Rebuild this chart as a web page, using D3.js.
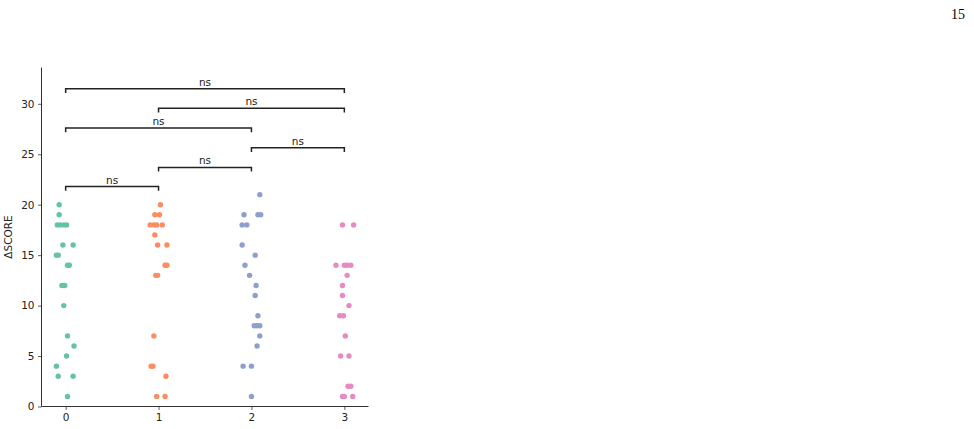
<!DOCTYPE html>
<html>
<head>
<meta charset="utf-8">
<script src="https://cdn.jsdelivr.net/npm/d3@7"></script>
<style>
  body { margin: 0; background: #fff; }
  svg { display: block; }
</style>
</head>
<body>
<svg id="chart"></svg>
<script>
const categories = [0, 1, 2, 3]
const colors = ['#66c2a5', '#fc8d62', '#8da0cb', '#e78ac3']
const yTicks = [0, 5, 10, 15, 20, 25, 30]

// [score, jitter offset in category units]
const group0 = [
  [20, -0.07], [19, -0.07], [18, -0.09], [18, -0.06], [18, -0.02], [18, 0.01],
  [16, -0.03], [16, 0.08], [15, -0.10], [15, -0.08], [14, 0.02], [14, 0.04],
  [12, -0.04], [12, -0.01], [10, -0.02], [7, 0.02], [6, 0.09], [5, 0.01],
  [4, -0.10], [3, -0.08], [3, 0.08], [1, 0.02]
]
const group1 = [
  [20, 0.02], [19, -0.04], [19, 0.01], [18, -0.09], [18, -0.05], [18, -0.02], [18, 0.04],
  [17, -0.04], [16, -0.01], [16, 0.09], [14, 0.07], [14, 0.09], [13, -0.03], [13, -0.01],
  [7, -0.05], [4, -0.08], [4, -0.06], [3, 0.08], [1, -0.02], [1, 0.07]
]
const group2 = [
  [21, 0.09], [19, -0.08], [19, 0.07], [19, 0.10], [18, -0.10], [18, -0.05],
  [16, -0.10], [15, 0.04], [14, -0.07], [13, -0.02], [12, 0.05], [11, 0.04],
  [9, 0.07], [8, 0.03], [8, 0.06], [8, 0.09], [7, 0.09], [6, 0.06],
  [4, -0.09], [4, 0.0], [1, 0.0]
]
const group3 = [
  [18, -0.02], [18, 0.10], [14, -0.09], [14, 0.0], [14, 0.03], [14, 0.07],
  [13, 0.03], [12, -0.02], [11, -0.02], [10, 0.05], [9, -0.05], [9, -0.01],
  [7, 0.01], [5, -0.04], [5, 0.05], [2, 0.04], [2, 0.07],
  [1, -0.02], [1, 0.0], [1, 0.09]
]
const groups = [group0, group1, group2, group3]

// significance brackets: [from, to, height, label]
const pairs = [
  [0, 1, 21.8, 'ns'],
  [1, 2, 23.7, 'ns'],
  [2, 3, 25.65, 'ns'],
  [0, 2, 27.6, 'ns'],
  [1, 3, 29.55, 'ns'],
  [0, 3, 31.5, 'ns']
]

const W = 974, H = 429
const margin = { top: 67.5, left: 41.5, right: 605.5, bottom: 22.5 }
const width = W - margin.left - margin.right
const height = H - margin.top - margin.bottom
const font = 'DejaVu Sans, sans-serif'

const svgEl = d3.select('#chart').attr('width', W).attr('height', H)

// page number in the corner
svgEl.append('text')
  .attr('x', 965).attr('y', 18.5)
  .attr('text-anchor', 'end')
  .attr('font-family', 'Liberation Serif, serif')
  .attr('font-size', 14)
  .text('15')

const svg = svgEl.append('g').attr('transform', `translate(${margin.left}, ${margin.top})`)

const x = d3.scaleLinear().domain([-0.26, 3.26]).range([0, width])
const y = d3.scaleLinear().domain([0, 33.6]).range([height, 0])

groups.forEach((g, i) => {
  svg.append('g')
    .selectAll('circle')
    .data(g)
    .enter()
    .append('circle')
    .attr('cx', (d) => x(categories[i] + d[1]))
    .attr('cy', (d) => y(d[0]))
    .attr('r', 2.7)
    .attr('fill', colors[i])
})

const yAxis = svg.append('g')
  .call(d3.axisLeft(y).tickValues(yTicks).tickSize(3.5).tickPadding(3.5))
const xAxis = svg.append('g')
  .attr('transform', `translate(0, ${height})`)
  .call(d3.axisBottom(x).tickValues(categories).tickFormat(d3.format('d')).tickSize(3.5).tickPadding(3.5))

;[yAxis, xAxis].forEach((a) => {
  a.attr('font-family', font).attr('font-size', 10.5)
  a.select('.domain').attr('stroke', '#333').attr('stroke-width', 1)
  a.selectAll('.tick line').attr('stroke', '#333').attr('stroke-width', 0.8)
  a.selectAll('.tick text').attr('fill', '#222')
})
// drop the outer tick caps so the spines are plain lines
yAxis.select('.domain').attr('d', `M0,${height}V0`)
xAxis.select('.domain').attr('d', `M0,0H${width}`)

svg.append('text')
  .attr('transform', `translate(${-29.5}, ${height / 2}) rotate(-90)`)
  .attr('text-anchor', 'middle')
  .attr('font-family', font)
  .attr('font-size', 10.5)
  .attr('fill', '#222')
  .text('ΔSCORE')

const brackets = svg.append('g')
pairs.forEach(([a, b, h, label]) => {
  const x1 = x(a), x2 = x(b), yy = y(h), drop = y(h - 0.42) - yy
  brackets.append('path')
    .attr('d', `M${x1},${yy + drop}V${yy}H${x2}V${yy + drop}`)
    .attr('fill', 'none')
    .attr('stroke', '#222')
    .attr('stroke-width', 1.5)
  brackets.append('text')
    .attr('x', (x1 + x2) / 2)
    .attr('y', yy - 3)
    .attr('text-anchor', 'middle')
    .attr('font-family', font)
    .attr('font-size', 10.5)
    .attr('fill', '#222')
    .text(label)
})
</script>
</body>
</html>
